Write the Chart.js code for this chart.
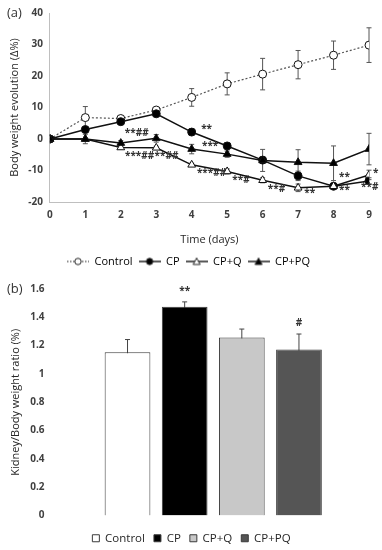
<!DOCTYPE html>
<html lang="en">
<head>
<meta charset="UTF-8">
<title>Body weight evolution and kidney ratio</title>
<style>
    body {
        margin: 0;
        background: #fff;
        font-family: "Open Sans", Arial, sans-serif;
    }
    .panel {
        position: absolute;
        left: 0;
        width: 382px;
        height: 275px;
    }
    #panelA { top: 0; }
    #panelB { top: 275px; }
    .tag {
        position: absolute;
        left: 7px;
        font-size: 13px;
        color: #333;
    }
</style>
</head>
<body>
<div class="panel" id="panelA">
    <canvas id="weightChart" width="382" height="275"></canvas>
    <span class="tag" style="top:3px">(a)</span>
</div>
<div class="panel" id="panelB">
    <canvas id="ratioChart" width="382" height="275"></canvas>
    <span class="tag" style="top:4px">(b)</span>
</div>
<script src="https://cdn.jsdelivr.net/npm/chart.js"></script>
<script>
    // panel (a) - body weight evolution
    const days = [0, 1, 2, 3, 4, 5, 6, 7, 8, 9];
    const controlVals = [0, 6.8, 6.5, 9.2, 13.2, 17.5, 20.6, 23.6, 26.6, 29.8];
    const cpVals = [0, 3.0, 5.5, 8.0, 2.2, -2.2, -6.7, -11.7, -15.0, -13.3];
    const cpqVals = [0, 0, -2.7, -2.8, -8.2, -10.3, -13.1, -15.5, -15.0, -11.4];
    const cppqVals = [0, 0, -1.3, 0.2, -3.2, -4.8, -6.8, -7.4, -7.7, -3.2];

    const controlErr = [0, 3.5, 0.6, 0.5, 2.8, 3.5, 5.0, 4.5, 4.5, 5.5];
    const cpErr = [0, 0.8, 0.5, 0.5, 1.0, 1.0, 1.0, 1.5, 0.5, 1.0];
    const cpqErr = [0, 0, 0.5, 0.5, 0.5, 0.8, 0.8, 1.2, 1.0, 1.5];
    const cppqErr = [0, 1.5, 0.8, 1.2, 1.5, 1.0, 3.5, 4.0, 5.5, 5.0];

    const weightTicks = [-20, -10, 0, 10, 20, 30, 40];

    // significance marks, placed in data units
    const weightMarks = [
        { text: '**##', x: 2.45, y: 2.0 },
        { text: '**', x: 4.42, y: 3.0 },
        { text: '***', x: 4.52, y: -2.2 },
        { text: '***##', x: 2.53, y: -5.3 },
        { text: '**##', x: 3.29, y: -5.3 },
        { text: '***##', x: 4.56, y: -11.0 },
        { text: '**#', x: 5.39, y: -13.1 },
        { text: '**#', x: 6.39, y: -16.0 },
        { text: '**', x: 7.33, y: -17.1 },
        { text: '**', x: 8.31, y: -12.1 },
        { text: '**', x: 8.31, y: -16.3 },
        { text: '*', x: 9.19, y: -10.8 },
        { text: '**#', x: 9.02, y: -15.4 }
    ];

    // panel (b) - kidney / body weight ratio
    const groups = ['Control', 'CP', 'CP+Q', 'CP+PQ'];
    const ratioVals = [1.153, 1.474, 1.257, 1.172];
    const ratioErr = [0.09, 0.035, 0.06, 0.11];
    const ratioMarks = ['', '**', '', '#'];
    const ratioColors = ['#ffffff', '#000000', '#c8c8c8', '#555555'];

    const tickFont = { family: '"Open Sans", Arial, sans-serif', size: 10, weight: 'bold' };
    const titleFont = { family: '"Open Sans", Arial, sans-serif', size: 11 };

    // vertical error bars drawn through the chart scales
    const errorBars = {
        id: 'errorBars',
        beforeDatasetsDraw(chart, args, opts) {
            if (!opts.errors) return;
            const ctx = chart.ctx;
            const yScale = chart.scales.y;
            ctx.save();
            ctx.strokeStyle = opts.color || '#444';
            ctx.lineWidth = 1;
            chart.data.datasets.forEach((ds, di) => {
                const errs = opts.errors[di];
                const meta = chart.getDatasetMeta(di);
                meta.data.forEach((el, i) => {
                    const e = errs[i];
                    if (!e) return;
                    const v = opts.values[di][i];
                    const x = el.x;
                    const yTop = yScale.getPixelForValue(v + e);
                    const yBot = yScale.getPixelForValue(v - e);
                    ctx.beginPath();
                    ctx.moveTo(x, yTop); ctx.lineTo(x, yBot);
                    ctx.moveTo(x - 2.5, yTop); ctx.lineTo(x + 2.5, yTop);
                    ctx.moveTo(x - 2.5, yBot); ctx.lineTo(x + 2.5, yBot);
                    ctx.stroke();
                });
            });
            ctx.restore();
        }
    };

    const weightText = {
        id: 'weightText',
        afterDatasetsDraw(chart) {
            const ctx = chart.ctx;
            ctx.save();
            ctx.font = 'bold 10px "Open Sans", Arial, sans-serif';
            ctx.fillStyle = '#333';
            ctx.textAlign = 'center';
            ctx.textBaseline = 'middle';
            weightMarks.forEach(m => {
                ctx.fillText(m.text, chart.scales.x.getPixelForValue(m.x), chart.scales.y.getPixelForValue(m.y));
            });
            ctx.restore();
        }
    };

    function legendIcon(dotted, shape, filled) {
        const c = document.createElement('canvas');
        c.width = 22; c.height = 10;
        const g = c.getContext('2d');
        g.strokeStyle = '#222';
        g.lineWidth = dotted ? 1 : 1.5;
        g.setLineDash(dotted ? [1.5, 1.5] : []);
        g.beginPath(); g.moveTo(0, 5); g.lineTo(22, 5); g.stroke();
        g.setLineDash([]);
        g.lineWidth = 1;
        g.fillStyle = filled ? '#000' : '#fff';
        g.beginPath();
        if (shape === 'circle') {
            g.arc(11, 5, 3.2, 0, Math.PI * 2);
        } else {
            g.moveTo(11, 1.5); g.lineTo(14.5, 8); g.lineTo(7.5, 8); g.closePath();
        }
        g.fill(); g.stroke();
        return c;
    }

    const icons = [
        legendIcon(true, 'circle', false),
        legendIcon(false, 'circle', true),
        legendIcon(false, 'triangle', false),
        legendIcon(false, 'triangle', true)
    ];

    function series(label, vals, style, fill, dashed) {
        return {
            label: label,
            data: days.map((d, i) => ({ x: d, y: vals[i] })),
            borderColor: dashed ? '#555' : '#111',
            borderWidth: dashed ? 1.2 : 1.5,
            borderDash: dashed ? [2, 2] : [],
            pointStyle: style,
            pointRadius: style === 'circle' ? 4 : 4.5,
            pointBackgroundColor: fill,
            pointBorderColor: '#111',
            pointBorderWidth: 1,
            tension: 0
        };
    }

    new Chart(document.getElementById('weightChart'), {
        type: 'line',
        data: {
            datasets: [
                series('CP+PQ', cppqVals, 'triangle', '#000', false),
                series('CP+Q', cpqVals, 'triangle', '#fff', false),
                series('CP', cpVals, 'circle', '#000', false),
                series('Control', controlVals, 'circle', '#fff', true)
            ]
        },
        options: {
            responsive: false,
            animation: false,
            layout: { padding: { top: 0, right: 13, left: 8, bottom: -2 } },
            scales: {
                x: {
                    type: 'linear',
                    min: 0,
                    max: 9,
                    grid: { display: false, drawTicks: false },
                    border: { display: true, color: '#bfbfbf' },
                    ticks: { stepSize: 1, color: '#404040', font: tickFont, padding: 7 },
                    title: { display: true, text: 'Time (days)', color: '#262626', font: titleFont, padding: { top: 2, bottom: 4 } },
                    afterFit: axis => { axis.height = 48; }
                },
                y: {
                    min: -20,
                    max: 40,
                    grid: { display: false, drawTicks: false },
                    border: { display: true, color: '#bfbfbf' },
                    afterBuildTicks: axis => { axis.ticks = weightTicks.map(v => ({ value: v })); },
                    ticks: { color: '#404040', font: tickFont, padding: 7 },
                    title: { display: true, text: 'Body weight evolution (\u0394%)', color: '#262626', font: titleFont, padding: 0 }
                }
            },
            plugins: {
                legend: {
                    position: 'bottom',
                    reverse: true,
                    labels: {
                        usePointStyle: true,
                        pointStyleWidth: 22,
                        color: '#262626',
                        font: { family: '"Open Sans", Arial, sans-serif', size: 11 },
                        padding: 6,
                        generateLabels: chart => chart.data.datasets.map((ds, i) => ({
                            text: ds.label,
                            pointStyle: icons[3 - i],
                            datasetIndex: i,
                            fillStyle: 'transparent',
                            strokeStyle: 'transparent',
                            lineWidth: 0,
                            hidden: false
                        }))
                    }
                },
                tooltip: { enabled: false },
                errorBars: {
                    errors: [cppqErr, cpqErr, cpErr, controlErr],
                    values: [cppqVals, cpqVals, cpVals, controlVals],
                    color: '#555'
                }
            }
        },
        plugins: [errorBars, weightText]
    });

    const ratioText = {
        id: 'ratioText',
        afterDatasetsDraw(chart) {
            const ctx = chart.ctx;
            ctx.save();
            ctx.font = 'bold 10px "Open Sans", Arial, sans-serif';
            ctx.fillStyle = '#333';
            ctx.textAlign = 'center';
            ctx.textBaseline = 'middle';
            ratioMarks.forEach((t, i) => {
                if (!t) return;
                const el = chart.getDatasetMeta(i).data[0];
                ctx.fillText(t, el.x, chart.scales.y.getPixelForValue(ratioVals[i] + ratioErr[i]) - 11);
            });
            ctx.restore();
        }
    };

    new Chart(document.getElementById('ratioChart'), {
        type: 'bar',
        data: {
            labels: [''],
            datasets: groups.map((g, i) => ({
                label: g,
                data: [ratioVals[i]],
                backgroundColor: ratioColors[i],
                borderColor: '#3a3a3a',
                borderWidth: 1,
                categoryPercentage: 0.711,
                barPercentage: 0.8
            }))
        },
        options: {
            responsive: false,
            animation: false,
            layout: { padding: { top: 8, right: 8, left: 9, bottom: -4 } },
            scales: {
                x: {
                    display: true,
                    grid: { display: false, drawTicks: false },
                    border: { display: false },
                    ticks: { display: false },
                    afterFit: axis => { axis.height = 8; }
                },
                y: {
                    min: 0,
                    max: 1.6,
                    grid: { display: false, drawTicks: false },
                    border: { display: false },
                    ticks: {
                        stepSize: 0.2,
                        color: '#404040',
                        font: tickFont,
                        padding: 8,
                        callback: v => String(Math.round(v * 10) / 10)
                    },
                    title: { display: true, text: 'Kidney/Body weight ratio (%)', color: '#262626', font: titleFont, padding: 0 }
                }
            },
            plugins: {
                legend: {
                    position: 'bottom',
                    labels: {
                        boxWidth: 7,
                        boxHeight: 7,
                        color: '#262626',
                        font: { family: '"Open Sans", Arial, sans-serif', size: 11.5 },
                        padding: 9
                    }
                },
                tooltip: { enabled: false },
                errorBars: {
                    errors: ratioErr.map(e => [e]),
                    values: ratioVals.map(v => [v]),
                    color: '#444'
                }
            }
        },
        plugins: [errorBars, ratioText]
    });
</script>
</body>
</html>
